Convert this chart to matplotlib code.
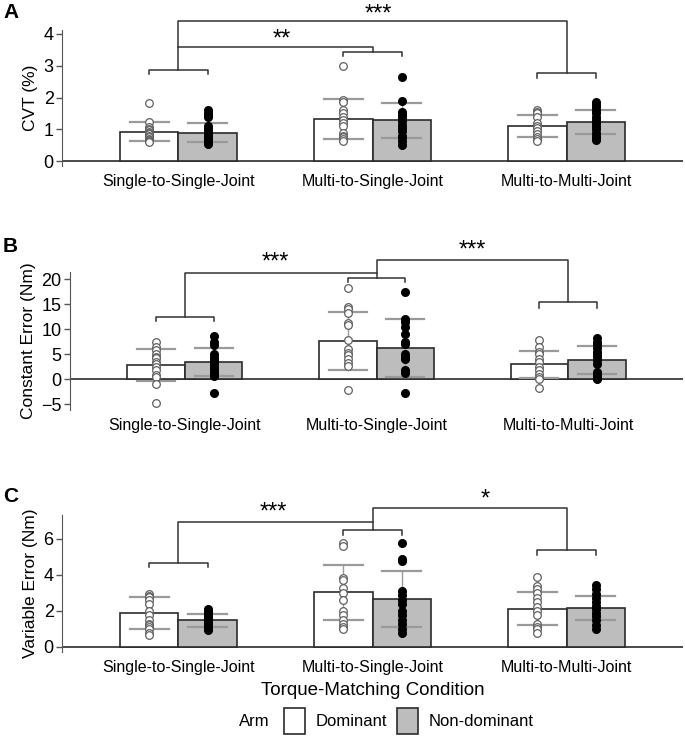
import numpy as np
import matplotlib
matplotlib.use('Agg')
import matplotlib.pyplot as plt
from matplotlib.patches import Patch

plt.rcParams['font.family'] = ['Liberation Sans', 'DejaVu Sans']

conditions = ['Single-to-Single-Joint', 'Multi-to-Single-Joint', 'Multi-to-Multi-Joint']

# panel A: CVT (%)
cvt_mean_dom = [0.93, 1.33, 1.10]
cvt_sd_dom = [0.31, 0.63, 0.35]
cvt_mean_non = [0.90, 1.28, 1.22]
cvt_sd_non = [0.30, 0.56, 0.38]
cvt_pts_dom = [
    [1.82, 1.22, 1.08, 1.0, 0.97, 0.93, 0.88, 0.84, 0.80, 0.75, 0.70, 0.66, 0.62, 0.60],
    [3.0, 1.92, 1.85, 1.6, 1.5, 1.4, 1.3, 1.2, 1.1, 0.9, 0.8, 0.75, 0.7, 0.62],
    [1.62, 1.55, 1.5, 1.4, 1.2, 1.1, 1.05, 0.95, 0.85, 0.75, 0.7, 0.62],
]
cvt_pts_non = [
    [1.6, 1.52, 1.45, 1.38, 1.1, 1.02, 0.95, 0.9, 0.85, 0.8, 0.75, 0.7, 0.65, 0.6, 0.55],
    [2.65, 1.9, 1.55, 1.45, 1.35, 1.25, 1.15, 1.05, 0.95, 0.8, 0.75, 0.62, 0.5],
    [1.85, 1.78, 1.7, 1.6, 1.5, 1.4, 1.3, 1.2, 1.1, 1.0, 0.9, 0.8, 0.72, 0.68],
]

# panel B: constant error (Nm)
ce_mean_dom = [2.8, 7.7, 3.0]
ce_sd_dom = [3.2, 5.8, 2.7]
ce_mean_non = [3.4, 6.2, 3.9]
ce_sd_non = [2.8, 5.8, 2.75]
ce_pts_dom = [
    [7.4, 6.5, 5.8, 5.0, 4.5, 4.2, 3.5, 3.0, 2.5, 1.8, 0.8, 0.5, -1.0, -4.8],
    [18.3, 14.5, 14.0, 13.2, 11.2, 10.8, 7.8, 6.0, 5.3, 4.8, 4.0, 3.2, 2.6, -2.2],
    [7.8, 6.5, 5.5, 5.0, 4.0, 3.5, 2.5, 1.8, 1.0, 0.5, 0.0, -1.8],
]
ce_pts_non = [
    [8.7, 7.5, 6.8, 5.0, 4.5, 4.0, 3.5, 3.0, 2.5, 2.0, 1.5, 1.0, 0.7, -2.7],
    [17.5, 12.0, 11.5, 10.5, 9.0, 7.5, 7.0, 5.0, 4.5, 4.0, 1.8, 1.2, -2.7],
    [8.2, 7.5, 7.0, 6.2, 5.5, 5.0, 4.5, 3.8, 3.0, 1.5, 0.8, 0.3, 0.0],
]

# panel C: variable error (Nm)
ve_mean_dom = [1.88, 3.03, 2.12]
ve_sd_dom = [0.87, 1.55, 0.92]
ve_mean_non = [1.47, 2.67, 2.14]
ve_sd_non = [0.35, 1.55, 0.67]
ve_pts_dom = [
    [2.95, 2.85, 2.75, 2.6, 2.4, 2.0, 1.75, 1.5, 1.3, 1.2, 1.1, 1.0, 0.8, 0.65],
    [5.75, 5.6, 3.85, 3.7, 3.3, 3.0, 2.6, 2.0, 1.8, 1.5, 1.3, 1.1, 1.0],
    [3.9, 3.4, 3.2, 3.0, 2.7, 2.5, 2.2, 2.0, 1.8, 1.3, 1.1, 1.0, 0.8],
]
ve_pts_non = [
    [2.1, 2.0, 1.9, 1.8, 1.7, 1.6, 1.5, 1.4, 1.3, 1.2, 1.1, 1.0, 0.95],
    [5.75, 4.9, 4.75, 3.1, 2.9, 2.6, 2.4, 2.0, 1.8, 1.5, 1.3, 1.0, 0.75],
    [3.45, 3.2, 2.95, 2.7, 2.5, 2.3, 2.1, 1.9, 1.7, 1.5, 1.2, 1.0],
]

W, H = 685, 737
fig = plt.figure(figsize=(W / 100, H / 100), dpi=100)


def px_axes(left, right, top, bottom):
    return fig.add_axes([left / W, 1 - bottom / H, (right - left) / W, (bottom - top) / H])


bw = 0.3
cap = 0.1
gray = '#bdbdbd'
edge = '#2b2b2b'


def panel(ax, mdom, sdom, mnon, snon, pdom, pnon, ylim, yticks, ylabel):
    x = np.arange(len(conditions))
    ax.bar(x - bw / 2, mdom, bw, color='white', edgecolor=edge, linewidth=1.2, zorder=1)
    ax.bar(x + bw / 2, mnon, bw, color=gray, edgecolor=edge, linewidth=1.2, zorder=1)
    for xs, m, s in [(x - bw / 2, mdom, sdom), (x + bw / 2, mnon, snon)]:
        for xi, mi, si in zip(xs, m, s):
            ax.plot([xi, xi], [mi - si, mi + si], color='#9a9a9a', lw=1.0, zorder=2)
            ax.plot([xi - cap, xi + cap], [mi + si, mi + si], color='#9a9a9a', lw=1.6, zorder=2)
            ax.plot([xi - cap, xi + cap], [mi - si, mi - si], color='#9a9a9a', lw=1.6, zorder=2)
    for i in range(len(conditions)):
        ax.plot([x[i] - bw / 2] * len(pdom[i]), pdom[i], 'o', ms=5.5, mfc='white',
                mec='#606060', mew=0.9, zorder=3, clip_on=False)
        ax.plot([x[i] + bw / 2] * len(pnon[i]), pnon[i], 'o', ms=5.5, mfc='black',
                mec='black', zorder=3, clip_on=False)
    ax.axhline(0, color=edge, lw=1.2, zorder=0)
    ax.set_xlim(-0.6, 2.6)
    ax.set_ylim(*ylim)
    ax.set_yticks(yticks)
    ax.set_xticks(x)
    ax.set_xticklabels(conditions, fontsize=11.5)
    ax.tick_params(axis='x', length=0, pad=6)
    ax.tick_params(axis='y', labelsize=13, length=4, width=1, color='#555555', pad=2)
    for s in ['top', 'right', 'bottom']:
        ax.spines[s].set_visible(False)
    ax.spines['left'].set_color('#555555')
    ax.set_ylabel(ylabel, fontsize=12.5, labelpad=4)


def bracket(ax, x1, x2, y, tick):
    ax.plot([x1, x1, x2, x2], [y - tick, y, y, y - tick], color='#333333', lw=1.1, clip_on=False)


def link(ax, x1, y1, x2, y2, ytop, text, tx, ty, fs):
    ax.plot([x1, x1, x2, x2], [y1, ytop, ytop, y2], color='#333333', lw=1.1, clip_on=False)
    ax.text(tx, ty, text, ha='center', va='center', fontsize=fs, clip_on=False)


# A
axA = px_axes(62, 683, 30, 166)
panel(axA, cvt_mean_dom, cvt_sd_dom, cvt_mean_non, cvt_sd_non, cvt_pts_dom, cvt_pts_non,
      (-0.15, 4.12), [0, 1, 2, 3, 4], 'CVT (%)')
bracket(axA, -0.15, 0.15, 2.87, 0.13)
bracket(axA, 0.85, 1.15, 3.44, 0.14)
bracket(axA, 1.85, 2.15, 2.77, 0.15)
link(axA, 0, 2.87, 1, 3.44, 3.6, '**', 0.53, 3.82, 17)
axA.plot([0, 0, 2, 2], [3.6, 4.41, 4.41, 2.77], color='#333333', lw=1.1, clip_on=False)
axA.text(1.03, 4.62, '***', ha='center', va='center', fontsize=17, clip_on=False)

# B
axB = px_axes(70, 683, 272, 410)
panel(axB, ce_mean_dom, ce_sd_dom, ce_mean_non, ce_sd_non, ce_pts_dom, ce_pts_non,
      (-6.1, 21.4), [-5, 0, 5, 10, 15, 20], 'Constant Error (Nm)')
bracket(axB, -0.15, 0.15, 12.45, 0.8)
bracket(axB, 0.85, 1.15, 20.3, 0.9)
bracket(axB, 1.85, 2.15, 15.4, 1.1)
link(axB, 0, 12.45, 1, 20.3, 21.3, '***', 0.47, 23.3, 17)
link(axB, 1, 21.3, 2, 15.4, 23.8, '***', 1.5, 25.7, 17)

# C
axC = px_axes(62, 683, 515, 652)
panel(axC, ve_mean_dom, ve_sd_dom, ve_mean_non, ve_sd_non, ve_pts_dom, ve_pts_non,
      (-0.28, 7.33), [0, 2, 4, 6], 'Variable Error (Nm)')
bracket(axC, -0.15, 0.15, 4.64, 0.22)
bracket(axC, 0.85, 1.15, 6.47, 0.27)
bracket(axC, 1.85, 2.15, 5.36, 0.26)
link(axC, 0, 4.64, 1, 6.47, 6.94, '***', 0.49, 7.45, 17)
link(axC, 1, 6.94, 2, 5.36, 7.74, '*', 1.58, 8.2, 17)
axC.set_xlabel('Torque-Matching Condition', fontsize=13.5, labelpad=5)

for lab, y in [('A', 13), ('B', 247), ('C', 497)]:
    fig.text(3 / W, 1 - y / H, lab, fontsize=15, fontweight='bold', va='center', ha='left')

handles = [Patch(facecolor='white', edgecolor=edge, lw=1.2, label='Dominant'),
           Patch(facecolor=gray, edgecolor=edge, lw=1.2, label='Non-dominant')]
fig.text(254 / W, 1 - 722 / H, 'Arm', fontsize=12, ha='center', va='center')
fig.legend(handles=handles, ncol=2, loc='center left', bbox_to_anchor=(272 / W, 1 - 721 / H),
           frameon=False, fontsize=12, handlelength=1.3, handleheight=2.0,
           columnspacing=0.6, handletextpad=0.6, borderpad=0.2)
plt.savefig('out.png', dpi=100)
